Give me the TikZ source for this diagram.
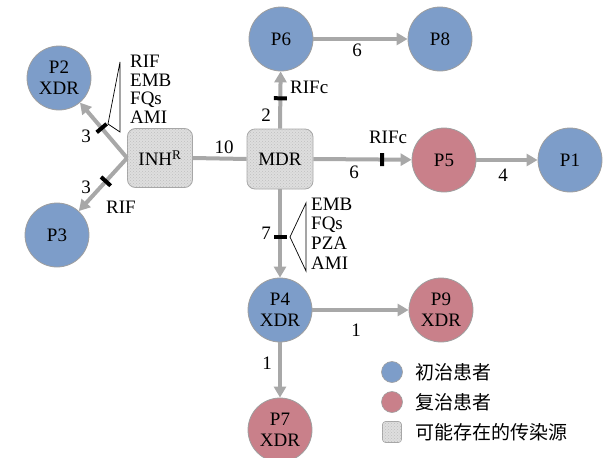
\documentclass[tikz,border=0pt]{standalone}
\usepackage{fontspec}
\setmainfont{Liberation Serif}
\newfontfamily\cjk{Noto Sans CJK SC}
\usetikzlibrary{arrows.meta,patterns}
\definecolor{pblue}{RGB}{125,157,201}
\definecolor{ppink}{RGB}{201,128,138}
\definecolor{egray}{RGB}{168,168,168}
\definecolor{bgray}{RGB}{222,222,222}
\begin{document}
\begin{tikzpicture}[x=1pt,y=-1pt, font=\fontsize{19}{21}\selectfont,
 pat/.style={circle, minimum size=64pt, inner sep=0pt, draw=gray!75, line width=0.8pt, align=center},
 newp/.style={pat, fill=pblue},
 oldp/.style={pat, fill=ppink},
 src/.style={rounded corners=8pt, minimum width=65pt, minimum height=59pt, draw=gray!70, fill=bgray, postaction={pattern=crosshatch dots, pattern color=gray!50}, line width=0.8pt, inner sep=0pt},
 edge/.style={draw=egray, line width=4pt, -{Triangle[length=11pt,width=12pt]}},
 plainedge/.style={draw=egray, line width=4pt},
 tickbar/.style={fill=black, minimum width=4pt, minimum height=13pt, inner sep=0pt, sloped},
 brk/.style={black, line width=0.7pt},
 lbl/.style={inner sep=0pt},
 drug/.style={inner sep=0pt, anchor=west, text height=12pt, text depth=2pt}]
\useasboundingbox (0,0) rectangle (603,458);

% patient nodes
\node[newp] (p2) at (59,78) {P2\\XDR};
\node[newp] (p3) at (57,235) {P3};
\node[newp] (p6) at (281,39) {P6};
\node[newp] (p8) at (440,39) {P8};
\node[oldp] (p5) at (444,160) {P5};
\node[newp] (p1) at (570,160) {P1};
\node[newp] (p4) at (280,310) {P4\\XDR};
\node[oldp] (p9) at (441,310) {P9\\XDR};
\node[oldp] (p7) at (280,430) {P7\\XDR};

% source nodes
\node[src] (inh) at (160,158) {INH\textsuperscript{R}};
\node[src, minimum width=66pt, minimum height=60pt] (mdr) at (280,159) {MDR};

% connectors
\draw[edge] (inh.west) -- node[tickbar, pos=0.54] (t2) {} (p2);
\draw[edge] (inh.west) -- node[tickbar, pos=0.44] (t3) {} (p3);
\draw[plainedge] (inh.east) -- (mdr.west);
\draw[edge] (mdr.north) -- node[tickbar, pos=0.53] (t6) {} (p6);
\draw[edge] (mdr.east) -- node[tickbar, pos=0.70] (t5) {} (p5);
\draw[edge] (mdr.south) -- node[tickbar, pos=0.54] (t4) {} (p4);
\draw[edge] (p6) -- (p8);
\draw[edge] (p5) -- (p1);
\draw[edge] (p4) -- (p9);
\draw[edge] (p4) -- (p7);

% brackets
\coordinate (a2) at (108,124);
\coordinate (a2t) at (120,62);
\coordinate (a2b) at (120,132);
\draw[brk] (a2t) -- (a2) -- (a2b) -- cycle;
\coordinate (a4) at (290,237);
\coordinate (a4t) at (306,203);
\coordinate (a4b) at (306,271);
\draw[brk] (a4t) -- (a4) -- (a4b) -- cycle;

% drug labels
\node[drug] (d1) at (130,62) {RIF};
\node[drug] (d2) at (130,81) {EMB};
\node[drug] (d3) at (130,99.5) {FQs};
\node[drug] (d4) at (130,118) {AMI};
\node[drug] (e1) at (311,205) {EMB};
\node[drug] (e2) at (311,224) {FQs};
\node[drug] (e3) at (311,244) {PZA};
\node[drug] (e4) at (311,264) {AMI};
\node[lbl] (r3) at (121,207) {RIF};
\node[lbl, anchor=west] (r6) at (290,87) {RIFc};
\node[lbl] (r5) at (388,137) {RIFc};

% number labels
\node[lbl] (n1) at (86,136) {3};
\node[lbl] (n2) at (86,187) {3};
\node[lbl] (n3) at (224,147) {10};
\node[lbl] (n4) at (266,115) {2};
\node[lbl] (n5) at (354,172) {6};
\node[lbl] (n6) at (357,50) {6};
\node[lbl] (n7) at (503,175) {4};
\node[lbl] (n8) at (266,233) {7};
\node[lbl] (n9) at (356,330) {1};
\node[lbl] (n10) at (267,363) {1};

% legend
\node[circle, minimum size=21pt, inner sep=0pt, fill=pblue, draw=gray!75, line width=0.6pt] (l1) at (392,372) {};
\node[circle, minimum size=21pt, inner sep=0pt, fill=ppink, draw=gray!75, line width=0.6pt] (l2) at (392,402) {};
\node[rounded corners=3pt, minimum width=19pt, minimum height=21pt, inner sep=0pt, draw=gray!70, fill=bgray, postaction={pattern=crosshatch dots, pattern color=gray!50}, line width=0.6pt] (l3) at (392,432) {};
\node[lbl, anchor=west, font=\cjk\fontsize{19}{21}\selectfont] (lt1) at (415,372) {初治患者};
\node[lbl, anchor=west, font=\cjk\fontsize{19}{21}\selectfont] (lt2) at (415,402) {复治患者};
\node[lbl, anchor=west, font=\cjk\fontsize{19}{21}\selectfont] (lt3) at (415,432) {可能存在的传染源};
\end{tikzpicture}
\end{document}
